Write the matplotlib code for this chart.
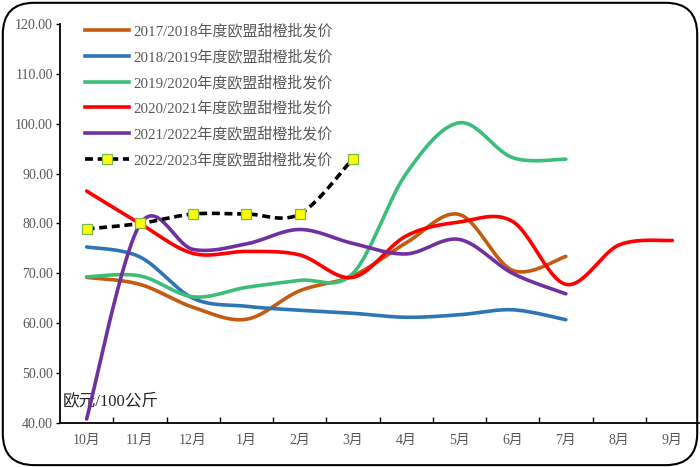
import numpy as np
import matplotlib
matplotlib.use("Agg")
import matplotlib.pyplot as plt
from matplotlib.patches import FancyBboxPatch
from matplotlib.lines import Line2D

months = ["10月", "11月", "12月", "1月", "2月", "3月", "4月", "5月", "6月", "7月", "8月", "9月"]
y_ticks = [40, 50, 60, 70, 80, 90, 100, 110, 120]

s1718 = [69.2, 67.8, 63.2, 60.8, 66.5, 69.5, 76.1, 81.8, 70.6, 73.4]
s1819 = [75.3, 73.3, 65.0, 63.4, 62.6, 62.0, 61.2, 61.7, 62.7, 60.7]
s1920 = [69.3, 69.5, 65.3, 67.2, 68.6, 70.0, 90.0, 100.2, 93.2, 92.9]
s2021 = [86.5, 80.0, 74.0, 74.4, 73.7, 69.2, 77.5, 80.3, 80.4, 67.8, 75.7, 76.6]
s2122 = [40.8, 79.8, 74.8, 75.9, 78.8, 76.0, 73.9, 76.8, 70.0, 65.9]
s2223 = [78.9, 80.0, 81.9, 81.9, 81.9, 93.0]

labels = ["2017/2018年度欧盟甜橙批发价", "2018/2019年度欧盟甜橙批发价", "2019/2020年度欧盟甜橙批发价",
          "2020/2021年度欧盟甜橙批发价", "2021/2022年度欧盟甜橙批发价", "2022/2023年度欧盟甜橙批发价"]
colors = ["#C55A11", "#2E75B6", "#3DBE78", "#FF0000", "#7030A0", "#000000"]

FONT = ['Liberation Serif', 'Noto Sans CJK SC']
GRAY = "#595959"


def smooth(y, n=30):
    y = np.asarray(y, dtype=float)
    x = np.arange(len(y), dtype=float)
    P = np.column_stack([x, y])
    out = [P[0]]
    m = len(P)
    for i in range(m - 1):
        p0 = P[i - 1] if i > 0 else P[i]
        p1 = P[i]
        p2 = P[i + 1]
        p3 = P[i + 2] if i + 2 < m else P[i + 1]
        c1 = p1 + (p2 - p0) / 6.0
        c2 = p2 - (p3 - p1) / 6.0
        t = np.linspace(0, 1, n)[1:, None]
        seg = ((1 - t) ** 3) * p1 + 3 * ((1 - t) ** 2) * t * c1 + 3 * (1 - t) * t ** 2 * c2 + t ** 3 * p2
        out.extend(seg)
    out = np.array(out)
    return out[:, 0], out[:, 1]


fig = plt.figure(figsize=(7.0, 4.67), dpi=100)
fig.patch.set_facecolor("white")
frame = FancyBboxPatch((0.004, 0.004), 0.992, 0.99, boxstyle="round,pad=0,rounding_size=0.045",
                       transform=fig.transFigure, fill=False, edgecolor="black", linewidth=1.5,
                       mutation_aspect=700 / 467)
fig.patches.append(frame)

ax = fig.add_axes([60 / 700, 1 - 423 / 467, 639 / 700, (423 - 24) / 467])
ax.set_facecolor("none")

series = [s1718, s1819, s1920, s2021, s2122]
handles = []
for s, c, lab in zip(series, colors[:5], labels[:5]):
    xs, ys = smooth(s)
    ax.plot(xs, ys, color=c, lw=2.6, solid_capstyle="round", zorder=3)
    handles.append(Line2D([], [], color=c, lw=2.6, label=lab))

xs, ys = smooth(s2223)
ax.plot(xs, ys, color="black", lw=2.6, ls=(0, (2.2, 1.3)), zorder=4)
ax.plot(np.arange(len(s2223)), s2223, ls="none", marker="s", ms=6.5, mfc="#FFFF00",
        mec="#7DB84A", mew=0.9, zorder=5)
handles.append(Line2D([], [], color="black", lw=2.6, ls=(0, (2.2, 1.3)), marker="s", ms=6.5,
                      mfc="#FFFF00", mec="#7DB84A", mew=0.9, label=labels[5]))

ax.set_xlim(-0.5, 11.5)
ax.set_ylim(40, 120)
ax.set_yticks(y_ticks)
ax.set_yticklabels([f"{v:.2f}" for v in y_ticks], family=FONT, fontsize=10, color=GRAY)
ax.yaxis.set_tick_params(direction="out", length=3, width=1, pad=2)

ax.set_xticks(np.arange(len(months)))
ax.set_xticklabels(months, family=FONT, fontsize=10, color=GRAY)
ax.set_xticks(np.arange(len(months) - 1) + 0.5, minor=True)
ax.xaxis.set_tick_params(which="major", length=0, pad=8)
ax.xaxis.set_tick_params(which="minor", direction="in", length=4, width=1)

for sp in ["top", "right"]:
    ax.spines[sp].set_visible(False)
for sp in ["left", "bottom"]:
    ax.spines[sp].set_linewidth(1.3)
    ax.spines[sp].set_color("black")

ax.text(0.004, 0.035, "欧元/100公斤", transform=ax.transAxes, family=FONT, fontsize=12,
        color="#262626", ha="left", va="bottom", zorder=2)

leg = ax.legend(handles=handles, loc="upper left", bbox_to_anchor=(0.018, 1.035), frameon=False,
                prop={"family": FONT, "size": 10.8}, labelcolor=GRAY, handlelength=2.95,
                handletextpad=0.3, labelspacing=0.74)

fig.savefig("out.png", dpi=100, facecolor="white")
